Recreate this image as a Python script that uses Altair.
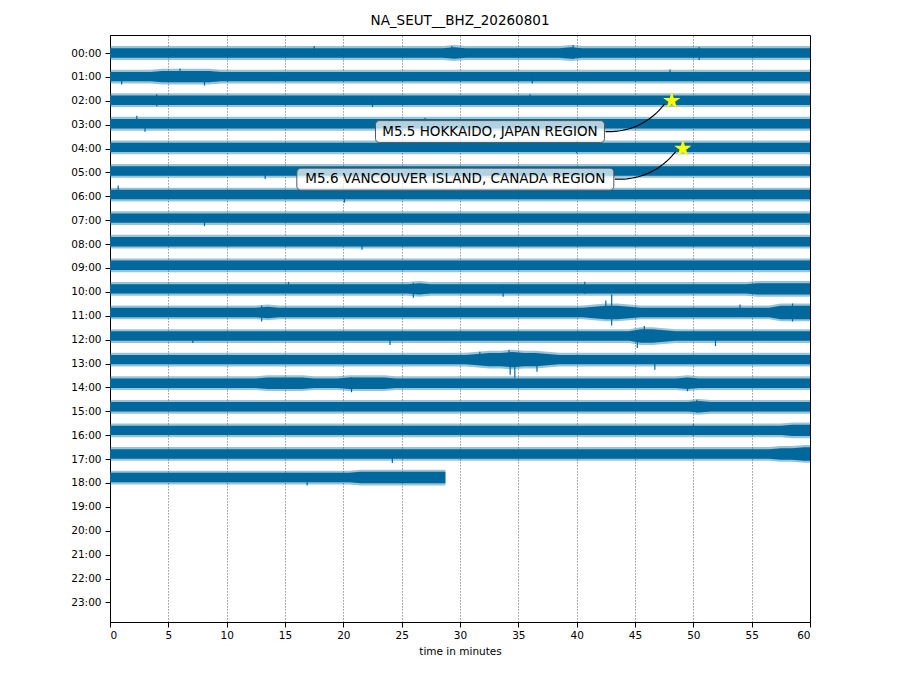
import altair as alt
import pandas as pd

TITLE = "NA_SEUT__BHZ_20260801"
HOURS = list(range(24))
TRACE_COLOR = "#00689c"

# half-width of the dense trace band, one digit (px) per minute, per hour row
TRACE_HALFWIDTH = [
    "4444444444 4444444444 4444444445 4444444445 4444444444 4444444444",
    "4444555554 4444444444 4444444444 4444444444 4444444444 4444444444",
    "4444444444 4444444444 4444444444 4444444444 4444444444 4444444444",
    "4444444444 4444444444 4444444444 4444444444 4444444444 4444444444",
    "4444444444 4444444444 4444444444 4444444444 4444444444 4444444444",
    "4444444444 4444444444 4444444444 4444444444 4444444444 4444444444",
    "4444444444 4444444444 4444444444 4444444444 4444444444 4444444444",
    "4444444444 4444444444 4444444444 4444444444 4444444444 4444444444",
    "4444444444 4444444444 4444444444 4444444444 4444444444 4444444444",
    "4444444444 4444444444 4444444444 4444444444 4444444444 4444444444",
    "4444444444 4444444444 4444445444 4444444444 4444444444 4444455555",
    "4444444444 4445444444 4444444444 4444444444 4566544444 4444444666",
    "4444444444 4444444444 4444444444 4444444444 4444466544 4444444444",
    "4444444444 4444444444 4444444444 4566766544 4444444444 4444444444",
    "4444444444 4445555444 5555444444 4444444444 4444444445 4444444444",
    "4444444444 4444444444 4444444444 4444444444 4444444444 5444444444",
    "4444444444 4444444444 4444444444 4444444444 4444444444 4444444455",
    "4444444444 4444444444 4444444444 4444444444 4444444444 4444444556",
    "4444444444 4444444444 455555555",
]
ROW_END = [60] * 18 + [28.75]

# isolated spikes: row, minute, extent up (px), extent down (px)
SPIKE_ROW = [0, 0, 0, 0,
             1, 1, 1, 1, 1,
             2, 2, 2,
             3, 3, 3,
             4, 5, 6, 6, 7, 8,
             10, 10, 10, 10,
             11, 11, 11, 11, 11,
             12, 12, 12, 12, 12,
             13, 13, 13, 13, 13, 13,
             14, 14, 15, 16, 17, 18]
SPIKE_MIN = [17.5, 29.3, 39.7, 50.5,
             1.0, 6.0, 8.1, 36.2, 48.0,
             4.0, 22.5, 36.0,
             2.3, 3.0, 27.0,
             40.0, 13.3, 0.7, 20.1, 8.1, 21.6,
             15.3, 26.0, 33.7, 40.7,
             13.0, 42.5, 43.0, 54.0, 58.5,
             7.1, 24.0, 45.2, 45.8, 51.9,
             31.7, 34.2, 34.3, 34.7, 36.6, 46.7,
             20.7, 49.5, 50.3, 50.0, 24.2, 16.9]
SPIKE_UP = [7, 7, 8, 6,
            4, 8, 5, 4, 7,
            6, 4, 6,
            8, 4, 6,
            6, 4, 9, 4, 4, 4,
            7, 6, 4, 7,
            7, 12, 18, 8, 9,
            4, 4, 5, 10, 4,
            8, 10, 5, 6, 5, 4,
            6, 4, 7, 6, 4, 4]
SPIKE_DN = [4, 5, 6, 7,
            8, 5, 9, 7, 4,
            6, 7, 4,
            4, 8, 5,
            6, 8, 4, 8, 8, 8,
            4, 9, 8, 5,
            9, 6, 13, 4, 9,
            7, 9, 12, 5, 10,
            5, 6, 15, 18, 12, 10,
            9, 8, 6, 5, 9, 8]

EV_LABELS = ["M5.5 HOKKAIDO, JAPAN REGION", "M5.6 VANCOUVER ISLAND, CANADA REGION"]
EV_MIN = [48.15, 49.1]
EV_HOUR = [2.0, 4.0]
EV_TEXT_MIN = [32.57, 29.6]
EV_TEXT_HOUR = [3.29, 5.28]

# ---- layout / style constants ----
W, H = 700, 587
Y_DOMAIN = [-0.754, 23.82]
PX_MIN = W / 60.0
PX_HR = H / (Y_DOMAIN[1] - Y_DOMAIN[0])
ROW_SPACING = 0.9874
BAND_PAD = 0.7
FRINGE = 2.2
BOX_HALF_W = [114.5, 158.5]
BOX_HALF_H = 11.0
FONT = "DejaVu Sans"

band_rows = []
for r, s in enumerate(TRACE_HALFWIDTH):
    vals = [int(c) for c in s.replace(" ", "")]
    c = r * ROW_SPACING
    pts = [(0.0, vals[0])] + [(i + 0.5, v) for i, v in enumerate(vals)] + [(ROW_END[r], vals[-1])]
    for t, a in pts:
        t = min(t, ROW_END[r])
        a = a + BAND_PAD
        band_rows.append({"row": r, "t": t,
                          "y1": c - a / PX_HR, "y2": c + a / PX_HR,
                          "f1": c - (a + FRINGE) / PX_HR, "f2": c + (a + FRINGE) / PX_HR})
band = pd.DataFrame(band_rows)

spikes = pd.DataFrame({
    "t": SPIKE_MIN,
    "ya": [r * ROW_SPACING - u / PX_HR for r, u in zip(SPIKE_ROW, SPIKE_UP)],
    "yb": [r * ROW_SPACING + d / PX_HR for r, d in zip(SPIKE_ROW, SPIKE_DN)],
})

boxes = pd.DataFrame({
    "label": EV_LABELS,
    "tx": EV_TEXT_MIN,
    "ty": EV_TEXT_HOUR,
    "x1": [m - hw / PX_MIN for m, hw in zip(EV_TEXT_MIN, BOX_HALF_W)],
    "x2": [m + hw / PX_MIN for m, hw in zip(EV_TEXT_MIN, BOX_HALF_W)],
    "y1": [h - BOX_HALF_H / PX_HR for h in EV_TEXT_HOUR],
    "y2": [h + BOX_HALF_H / PX_HR for h in EV_TEXT_HOUR],
})

stars = pd.DataFrame({"t": EV_MIN, "h": EV_HOUR})

# curved connectors (quadratic, like matplotlib arc3)
curve_rows = []
RAD = 0.25
for e in range(len(EV_LABELS)):
    x1 = (EV_TEXT_MIN[e] * PX_MIN) + BOX_HALF_W[e] + 1
    y1 = -(EV_TEXT_HOUR[e] * PX_HR)
    xs_, ys_ = EV_MIN[e] * PX_MIN, -(EV_HOUR[e] * PX_HR)
    dx, dy = xs_ - x1, ys_ - y1
    L = (dx * dx + dy * dy) ** 0.5
    x2, y2 = xs_ - dx / L * 8, ys_ - dy / L * 8
    dx, dy = x2 - x1, y2 - y1
    mx, my = (x1 + x2) / 2, (y1 + y2) / 2
    cx, cy = mx + RAD * dy, my - RAD * dx
    n = 24
    for k in range(n + 1):
        s = k / n
        px = (1 - s) ** 2 * x1 + 2 * (1 - s) * s * cx + s * s * x2
        py = (1 - s) ** 2 * y1 + 2 * (1 - s) * s * cy + s * s * y2
        curve_rows.append({"ev": e, "k": k, "t": px / PX_MIN, "h": -py / PX_HR})
curves = pd.DataFrame(curve_rows)

xs = alt.Scale(domain=[0, 60], nice=False, zero=False)
ys = alt.Scale(domain=Y_DOMAIN, reverse=True, nice=False, zero=False)

x_axis = alt.Axis(values=list(range(0, 61, 5)), title="time in minutes", grid=True,
                  gridColor="#000000", gridDash=[1.2, 1.8], gridWidth=0.7, gridOpacity=0.75,
                  tickSize=5, labelPadding=3, titlePadding=6, labelOverlap=False)
y_axis = alt.Axis(values=HOURS, title=None, grid=False, tickSize=5, labelPadding=4,
                  labelOverlap=False, labelBound=False,
                  labelExpr="(datum.value < 10 ? '0' : '') + datum.value + ':00'")


def X(f):
    return alt.X(f, scale=xs, axis=x_axis)


def Y(f):
    return alt.Y(f, scale=ys, axis=y_axis)


fringe = alt.Chart(band).mark_area(color=TRACE_COLOR, opacity=0.4).encode(
    x=X("t:Q"), y=Y("f1:Q"), y2="f2:Q", detail="row:N",
)
core = alt.Chart(band).mark_area(color=TRACE_COLOR).encode(
    x=X("t:Q"), y=Y("y1:Q"), y2="y2:Q", detail="row:N",
)
spk = alt.Chart(spikes).mark_rule(color=TRACE_COLOR, strokeWidth=1.2).encode(
    x=X("t:Q"), y=Y("ya:Q"), y2="yb:Q",
)
box = alt.Chart(boxes).mark_rect(fill="white", fillOpacity=0.7, stroke="#555555",
                                  strokeWidth=1, cornerRadius=4).encode(
    x=X("x1:Q"), x2="x2:Q", y=Y("y1:Q"), y2="y2:Q",
)
txt = alt.Chart(boxes).mark_text(font=FONT, fontSize=13.5, color="black",
                                  align="center", baseline="middle").encode(
    x=X("tx:Q"), y=Y("ty:Q"), text="label:N",
)
conn = alt.Chart(curves).mark_line(color="black", strokeWidth=1.2).encode(
    x=X("t:Q"), y=Y("h:Q"), detail="ev:N", order="k:Q",
)
STAR = ("M0,-1L0.2245,-0.309L0.951,-0.309L0.363,0.118L0.588,0.809L0,0.382"
        "L-0.588,0.809L-0.363,0.118L-0.951,-0.309L-0.2245,-0.309Z")
star = alt.Chart(stars).mark_point(shape=STAR, filled=True, fill="#ffff00", color="#ffff00",
                                   opacity=1, size=330).encode(
    x=X("t:Q"), y=Y("h:Q"),
)

chart = alt.layer(fringe, core, spk, box, txt, conn, star).properties(
    width=W, height=H,
    title=alt.TitleParams(TITLE, font=FONT, fontSize=13.5, fontWeight="normal",
                          color="black", offset=8, anchor="middle"),
    autosize=alt.AutoSizeParams(type="none"),
    padding={"left": 102, "top": 27, "right": 10, "bottom": 60},
).configure_view(stroke="black", strokeWidth=1).configure_axis(
    labelFont=FONT, titleFont=FONT, labelFontSize=10.5, titleFontSize=10.5,
    labelColor="black", titleColor="black", tickColor="black", domainColor="black",
    titleFontWeight="normal", labelOverlap=False,
).configure_axisY(labelOverlap=False, labelSeparation=0)

chart.save("out.html", embed_options={"renderer": "svg", "actions": False})
